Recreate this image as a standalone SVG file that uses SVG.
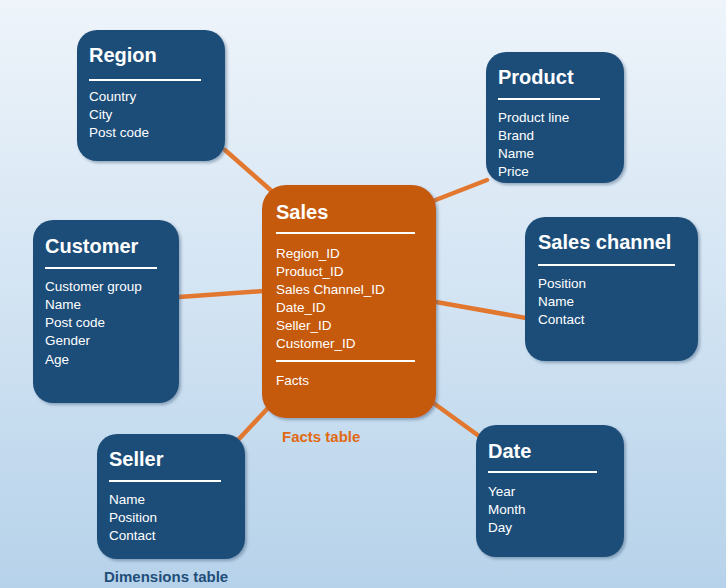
<svg xmlns="http://www.w3.org/2000/svg" width="726" height="588" viewBox="0 0 726 588">
<defs>
<linearGradient id="bg" x1="0" y1="0" x2="0" y2="1">
<stop offset="0" stop-color="#EEF4FA"/>
<stop offset="0.5" stop-color="#D3E4F3"/>
<stop offset="1" stop-color="#B6D2EA"/>
</linearGradient>
<filter id="sh" x="-10%" y="-10%" width="130%" height="130%">
<feDropShadow dx="2" dy="2" stdDeviation="1.5" flood-color="#3a5a7a" flood-opacity="0.45"/>
</filter>
</defs>
<style>
.dim{fill:#1F4E79;filter:url(#sh)}
.fact{fill:#C55A11;filter:url(#sh)}
.t{font-family:"Liberation Sans",Arial,sans-serif;font-weight:bold;font-size:20px;fill:#FFFFFF}
.i{font-family:"Liberation Sans",Arial,sans-serif;font-size:13.5px;fill:#FFFFFF}
.u{stroke:#FFFFFF;stroke-width:2}
.c{stroke:#E2782F;stroke-width:4.5;stroke-linecap:round}
.lbl{font-family:"Liberation Sans",Arial,sans-serif;font-weight:bold;font-size:15px}
</style>
<rect x="0" y="0" width="726" height="588" fill="url(#bg)"/>
<g id="connectors">
<line class="c" x1="225" y1="150" x2="275" y2="194"/>
<line class="c" x1="487" y1="180" x2="433" y2="201"/>
<line class="c" x1="179" y1="297" x2="263" y2="291"/>
<line class="c" x1="436" y1="302" x2="526" y2="318"/>
<line class="c" x1="238" y1="440" x2="268" y2="408"/>
<line class="c" x1="432" y1="402" x2="479" y2="436"/>
</g>
<g id="region">
<rect class="dim" x="77" y="30" width="148" height="131" rx="20"/>
<text class="t" x="89" y="62">Region</text>
<line class="u" x1="89" y1="80" x2="201" y2="80"/>
<text class="i" x="89" y="101">Country</text>
<text class="i" x="89" y="119">City</text>
<text class="i" x="89" y="137">Post code</text>
</g>
<g id="product">
<rect class="dim" x="486" y="52" width="138" height="131" rx="20"/>
<text class="t" x="498" y="84">Product</text>
<line class="u" x1="498" y1="99" x2="600" y2="99"/>
<text class="i" x="498" y="122">Product line</text>
<text class="i" x="498" y="140">Brand</text>
<text class="i" x="498" y="158">Name</text>
<text class="i" x="498" y="176">Price</text>
</g>
<g id="customer">
<rect class="dim" x="33" y="220" width="146" height="183" rx="20"/>
<text class="t" x="45" y="253">Customer</text>
<line class="u" x1="45" y1="268" x2="157" y2="268"/>
<text class="i" x="45" y="291">Customer group</text>
<text class="i" x="45" y="309">Name</text>
<text class="i" x="45" y="327">Post code</text>
<text class="i" x="45" y="345">Gender</text>
<text class="i" x="45" y="364">Age</text>
</g>
<g id="sales-channel">
<rect class="dim" x="525" y="217" width="173" height="144" rx="20"/>
<text class="t" x="538" y="249">Sales channel</text>
<line class="u" x1="538" y1="265" x2="675" y2="265"/>
<text class="i" x="538" y="288">Position</text>
<text class="i" x="538" y="306">Name</text>
<text class="i" x="538" y="324">Contact</text>
</g>
<g id="seller">
<rect class="dim" x="97" y="434" width="148" height="125" rx="20"/>
<text class="t" x="109" y="466">Seller</text>
<line class="u" x1="109" y1="481" x2="221" y2="481"/>
<text class="i" x="109" y="504">Name</text>
<text class="i" x="109" y="522">Position</text>
<text class="i" x="109" y="540">Contact</text>
<text class="lbl" x="104" y="582" fill="#1F4E79">Dimensions table</text>
</g>
<g id="date">
<rect class="dim" x="476" y="425" width="148" height="132" rx="20"/>
<text class="t" x="488" y="458">Date</text>
<line class="u" x1="488" y1="472" x2="597" y2="472"/>
<text class="i" x="488" y="496">Year</text>
<text class="i" x="488" y="514">Month</text>
<text class="i" x="488" y="532">Day</text>
</g>
<g id="sales">
<rect class="fact" x="262" y="185" width="174" height="233" rx="24"/>
<text class="t" x="276" y="219">Sales</text>
<line class="u" x1="276" y1="233" x2="415" y2="233"/>
<text class="i" x="276" y="258">Region_ID</text>
<text class="i" x="276" y="276">Product_ID</text>
<text class="i" x="276" y="294">Sales Channel_ID</text>
<text class="i" x="276" y="312">Date_ID</text>
<text class="i" x="276" y="330">Seller_ID</text>
<text class="i" x="276" y="348">Customer_ID</text>
<line class="u" x1="276" y1="361" x2="415" y2="361"/>
<text class="i" x="276" y="385">Facts</text>
<text class="lbl" x="282" y="442" fill="#E06A14">Facts table</text>
</g>
</svg>
